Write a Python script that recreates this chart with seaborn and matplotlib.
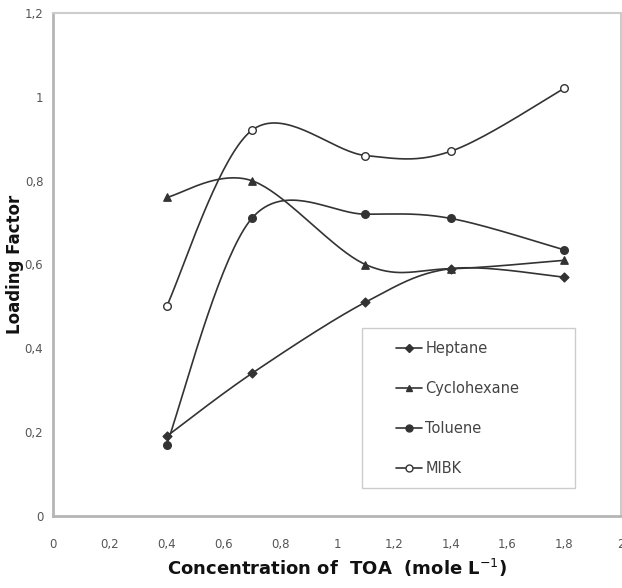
import numpy as np
import pandas as pd
import matplotlib
matplotlib.use("Agg")
import matplotlib.pyplot as plt
import seaborn as sns
from matplotlib.lines import Line2D
from matplotlib.patches import Rectangle

# ---- data ----
conc = [0.4, 0.7, 1.1, 1.4, 1.8]
heptane = [0.19, 0.34, 0.51, 0.59, 0.57]
cyclohexane = [0.76, 0.80, 0.60, 0.59, 0.61]
toluene = [0.17, 0.71, 0.72, 0.71, 0.635]
mibk = [0.50, 0.92, 0.86, 0.87, 1.02]
series_names = ["Heptane", "Cyclohexane", "Toluene", "MIBK"]
x_ticks = [0, 0.2, 0.4, 0.6, 0.8, 1, 1.2, 1.4, 1.6, 1.8, 2]
y_ticks = [0, 0.2, 0.4, 0.6, 0.8, 1, 1.2]


def fmt(v):
    return ("%g" % v).replace(".", ",")


def smooth(xs, ys, n=40):
    """Excel-style smoothed line (cubic Bezier through the points)."""
    P = np.column_stack([xs, ys]).astype(float)
    out = []
    m = len(P)
    for i in range(m - 1):
        p0 = P[i - 1] if i > 0 else P[i]
        p1 = P[i]
        p2 = P[i + 1]
        p3 = P[i + 2] if i + 2 < m else P[i + 1]
        c1 = p1 + (p2 - p0) / 6.0
        c2 = p2 - (p3 - p1) / 6.0
        t = np.linspace(0, 1, n)[:, None]
        seg = ((1 - t) ** 3) * p1 + 3 * ((1 - t) ** 2) * t * c1 + 3 * (1 - t) * t ** 2 * c2 + t ** 3 * p2
        if i > 0:
            seg = seg[1:]
        out.append(seg)
    return np.vstack(out)


sns.set_theme(style="white")
plt.rcParams["font.family"] = ["DejaVu Sans"]

W, H = 622, 588
fig = plt.figure(figsize=(W / 100, H / 100), dpi=100)
L, R, T, B = 53, 621, 13, 516
ax = fig.add_axes([L / W, (H - B) / H, (R - L) / W, (B - T) / H])

line_color = "#333333"
styles = {
    "Heptane": dict(marker="D", s=20, fc=line_color),
    "Cyclohexane": dict(marker="^", s=28, fc=line_color),
    "Toluene": dict(marker="o", s=30, fc=line_color),
    "MIBK": dict(marker="o", s=30, fc="white"),
}
values = {"Heptane": heptane, "Cyclohexane": cyclohexane, "Toluene": toluene, "MIBK": mibk}

for name in series_names:
    ys = values[name]
    curve = smooth(conc, ys)
    cdf = pd.DataFrame({"x": curve[:, 0], "y": curve[:, 1]})
    sns.lineplot(data=cdf, x="x", y="y", sort=False, estimator=None, ax=ax,
                 color=line_color, lw=1.2, zorder=2)
    df = pd.DataFrame({"x": conc, "y": ys})
    st = styles[name]
    sns.scatterplot(data=df, x="x", y="y", ax=ax, marker=st["marker"], s=st["s"],
                    color=st["fc"], edgecolor=line_color, linewidth=1.0, zorder=3)

ax.set_xlim(0, 2)
ax.set_ylim(0, 1.2)
ax.set_xticks(x_ticks)
ax.set_xticklabels([fmt(v) for v in x_ticks])
ax.set_yticks(y_ticks)
ax.set_yticklabels([fmt(v) for v in y_ticks])
ax.tick_params(axis="both", labelsize=8.5, colors="#555555", length=0)
ax.tick_params(axis="x", pad=16)
ax.tick_params(axis="y", pad=7)

for side in ["left", "bottom"]:
    ax.spines[side].set_color("#b5b5b5")
    ax.spines[side].set_linewidth(2.0)
for side in ["top", "right"]:
    ax.spines[side].set_color("#cccccc")
    ax.spines[side].set_linewidth(1.5)

ax.set_xlabel("Concentration of  TOA  (mole L$^{-1}$)", fontsize=13,
              fontweight="bold", color="#111111", labelpad=4)
ax.set_ylabel("Loading Factor", fontsize=12, fontweight="bold",
              color="#111111")
ax.yaxis.set_label_coords(-(L - 24) / (R - L), 0.5)


def ax_x(px):
    return (px - L) / (R - L)


def ax_y(py):
    return (B - py) / (B - T)


# legend box (frame) as in reference
ax.add_patch(Rectangle((ax_x(362), ax_y(488)), ax_x(575) - ax_x(362),
                       ax_y(328) - ax_y(488), transform=ax.transAxes,
                       facecolor="white", edgecolor="#cccccc", lw=1.0, zorder=4))

handles = []
for name in series_names:
    st = styles[name]
    handles.append(Line2D([0], [0], color=line_color, lw=1.2, marker=st["marker"],
                          markersize=5 if st["marker"] != "D" else 4,
                          markerfacecolor=st["fc"], markeredgecolor=line_color))
leg = ax.legend(handles, series_names, loc="upper left",
                bbox_to_anchor=(ax_x(396), ax_y(341)),
                bbox_transform=ax.transAxes, fontsize=10.5, frameon=False,
                handlelength=1.8, handletextpad=0.2, labelspacing=1.72,
                borderpad=0, borderaxespad=0)
leg.set_zorder(5)
for t in leg.get_texts():
    t.set_color("#444444")

fig.savefig("out.png", dpi=100)
